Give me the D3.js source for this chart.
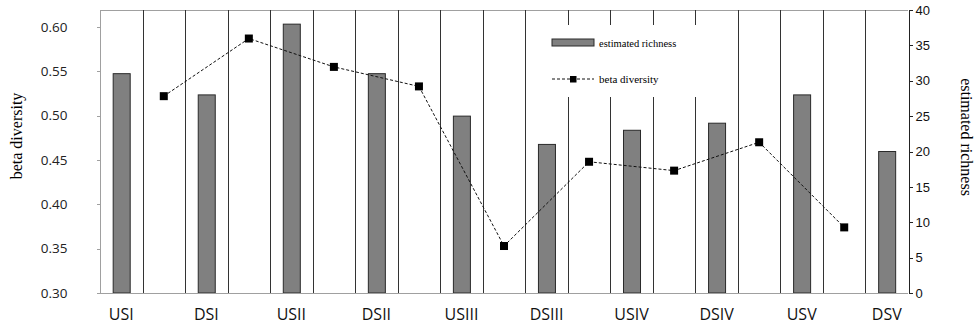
<!DOCTYPE html>
<html>
<head>
<meta charset="utf-8">
<script src="https://cdn.jsdelivr.net/npm/d3@7"></script>
<style>
  body { margin: 0; background: #fff; }
  .axis path, .axis line { shape-rendering: crispEdges; }
</style>
</head>
<body>
<div id="chart"></div>
<script>
// sites along the river, bars = richness, line = beta diversity between neighbours
const sites = ["USI", "DSI", "USII", "DSII", "USIII", "DSIII", "USIV", "DSIV", "USV", "DSV"];
const richness = [31, 28, 38, 31, 25, 21, 23, 24, 28, 20];
const betaDiversity = [0.522, 0.587, 0.555, 0.533, 0.353, 0.448, 0.438, 0.470, 0.374];
const betaTicks = [0.30, 0.35, 0.40, 0.45, 0.50, 0.55, 0.60];
const richTicks = [0, 5, 10, 15, 20, 25, 30, 35, 40];

const width = 974, height = 325;
const plotL = 100, plotR = 908, plotT = 10, plotB = 293;

const svg = d3.select("#chart").append("svg")
  .attr("width", width)
  .attr("height", height);

// 19 slots: bars on even slots, beta markers on the odd ones in between
const x = d3.scaleBand()
  .domain(d3.range(sites.length * 2 - 1))
  .range([plotL, plotR])
  .paddingInner(0).paddingOuter(0);
const bw = x.bandwidth();

const yBeta = d3.scaleLinear().domain([0.30, 0.60]).range([plotB, 27]);
const yRich = d3.scaleLinear().domain([0, 40]).range([plotB, plotT]);

// top frame line, grey
svg.append("line")
  .attr("x1", plotL).attr("x2", plotR).attr("y1", plotT + 0.5).attr("y2", plotT + 0.5)
  .attr("stroke", "#a0a0a0");

// vertical grid lines at every slot boundary
const bounds = d3.range(1, sites.length * 2 - 1).map(i => x(i));
svg.append("g").selectAll("line")
  .data(bounds)
  .join("line")
  .attr("x1", d => Math.round(d) + 0.5).attr("x2", d => Math.round(d) + 0.5)
  .attr("y1", plotT).attr("y2", plotB)
  .attr("stroke", "#333")
  .attr("stroke-width", 1);

// left axis (beta diversity)
const axL = svg.append("g")
  .attr("class", "axis")
  .attr("transform", "translate(" + (plotL + 0.5) + ",0)")
  .call(d3.axisLeft(yBeta).tickValues(betaTicks).tickFormat(d3.format(".2f"))
    .tickSize(4).tickPadding(29));
axL.select(".domain").remove();
axL.append("line")
  .attr("y1", plotT).attr("y2", plotB)
  .attr("stroke", "#a0a0a0");
axL.selectAll(".tick line").attr("stroke", "#a0a0a0");
axL.selectAll("text")
  .attr("font-family", "'Open Sans', 'Noto Sans', sans-serif")
  .attr("font-size", 13.5)
  .attr("fill", "#222");

// right axis (estimated richness)
const axR = svg.append("g")
  .attr("class", "axis")
  .attr("transform", "translate(" + (plotR + 0.5) + ",0)")
  .call(d3.axisRight(yRich).tickValues(richTicks).tickSize(4).tickPadding(3));
axR.select(".domain").attr("stroke", "#222");
axR.selectAll(".tick line").attr("stroke", "#222");
axR.selectAll("text")
  .attr("font-family", "'Liberation Sans', Arial, sans-serif")
  .attr("font-size", 13)
  .attr("fill", "#111");

// bars
svg.append("g").selectAll("rect")
  .data(richness)
  .join("rect")
  .attr("x", (d, i) => x(i * 2) + bw * 0.31)
  .attr("width", bw * 0.4)
  .attr("y", d => yRich(d))
  .attr("height", d => yRich(0) - yRich(d))
  .attr("fill", "#808080")
  .attr("stroke", "#2a2a2a")
  .attr("stroke-width", 1);

// bottom axis line over the bars
svg.append("line")
  .attr("x1", plotL).attr("x2", plotR).attr("y1", plotB + 0.5).attr("y2", plotB + 0.5)
  .attr("stroke", "#a0a0a0");

// beta diversity line
const pts = betaDiversity.map((d, i) => [x(i * 2 + 1) + bw / 2, yBeta(d)]);
svg.append("path")
  .attr("d", d3.line()(pts))
  .attr("fill", "none")
  .attr("stroke", "#111")
  .attr("stroke-width", 1)
  .attr("stroke-dasharray", "3,2");
svg.append("g").selectAll("rect")
  .data(pts)
  .join("rect")
  .attr("x", d => d[0] - 4)
  .attr("y", d => d[1] - 4)
  .attr("width", 8).attr("height", 8)
  .attr("fill", "#000");

// site labels
svg.append("g").selectAll("text")
  .data(sites)
  .join("text")
  .attr("x", (d, i) => x(i * 2) + bw / 2)
  .attr("y", 320)
  .attr("text-anchor", "middle")
  .attr("font-family", "'Open Sans', 'Noto Sans', sans-serif")
  .attr("font-size", 16)
  .attr("fill", "#111")
  .text(d => d);

// axis titles
svg.append("text")
  .attr("transform", "translate(22,136) rotate(-90)")
  .attr("text-anchor", "middle")
  .attr("font-family", "'Liberation Serif', 'Times New Roman', serif")
  .attr("font-size", 16)
  .text("beta diversity");
svg.append("text")
  .attr("transform", "translate(961,137) rotate(90)")
  .attr("text-anchor", "middle")
  .attr("font-family", "'Liberation Serif', 'Times New Roman', serif")
  .attr("font-size", 16)
  .text("estimated richness");

// legend, white box hides the grid behind it
const lg = svg.append("g");
lg.append("rect")
  .attr("x", 535).attr("y", 25).attr("width", 168).attr("height", 72)
  .attr("fill", "#fff");
lg.append("rect")
  .attr("x", 552).attr("y", 39).attr("width", 42).attr("height", 7)
  .attr("fill", "#808080").attr("stroke", "#2a2a2a");
lg.append("text")
  .attr("x", 599).attr("y", 46.5)
  .attr("font-family", "'Liberation Serif', 'Times New Roman', serif")
  .attr("font-size", 10.5)
  .text("estimated richness");
lg.append("line")
  .attr("x1", 552).attr("x2", 594).attr("y1", 79).attr("y2", 79)
  .attr("stroke", "#111").attr("stroke-dasharray", "3,2");
lg.append("rect")
  .attr("x", 570).attr("y", 76).attr("width", 6.5).attr("height", 6.5)
  .attr("fill", "#000");
lg.append("text")
  .attr("x", 599).attr("y", 83)
  .attr("font-family", "'Liberation Serif', 'Times New Roman', serif")
  .attr("font-size", 11)
  .text("beta diversity");
</script>
</body>
</html>
